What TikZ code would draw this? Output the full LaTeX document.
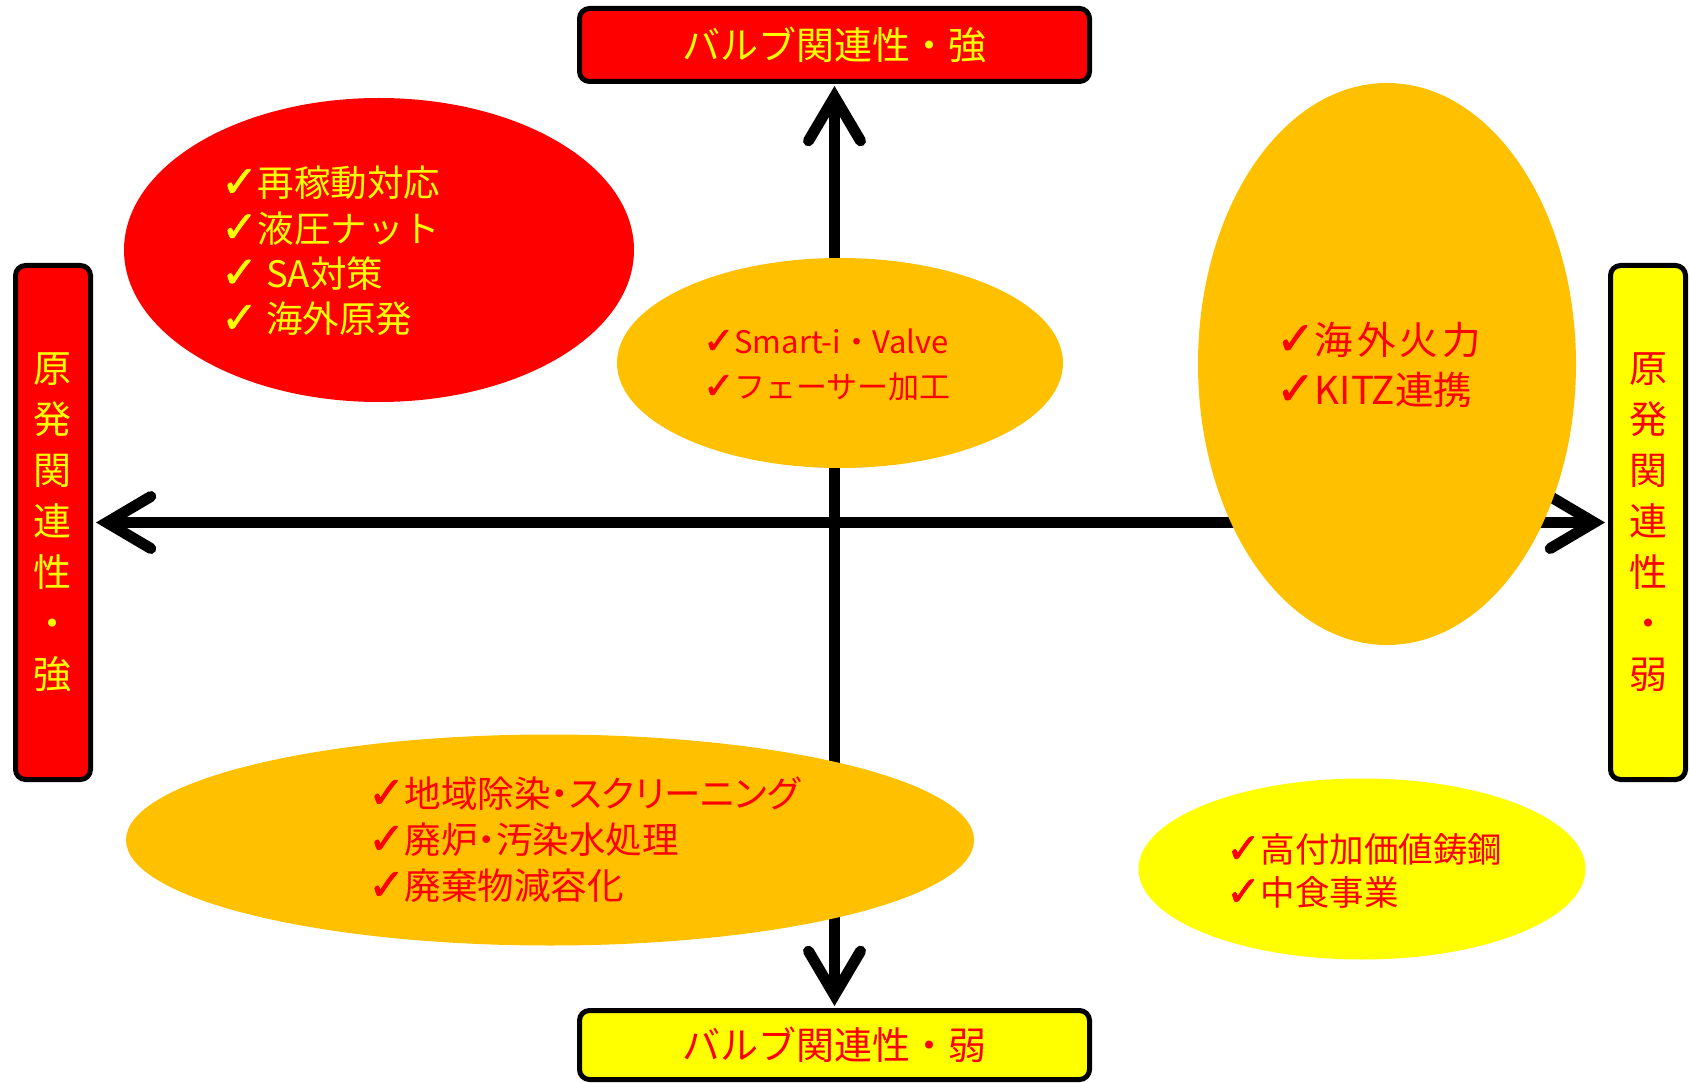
\documentclass[tikz,border=0pt]{standalone}
\usepackage{fontspec}
\usepackage{graphicx}
\newfontfamily\cjk{Noto Sans CJK JP}
\newfontfamily\symf[FakeBold=1.6]{DejaVu Sans}
\usetikzlibrary{shapes.geometric,arrows.meta}
\newcommand\mychk{{\symf\scalebox{1.2}{✓}}}
\definecolor{kred}{HTML}{FF0000}
\definecolor{kyel}{HTML}{FFFF00}
\definecolor{korg}{HTML}{FFC000}
\begin{document}
\begin{tikzpicture}[x=1pt,y=-1pt,
  box/.style={draw=black, line width=5pt, rounded corners=10pt, inner sep=0pt, align=center},
  blob/.style={ellipse, inner sep=0pt, draw=none},
  barb/.tip={Straight Barb[length=44pt,width=52pt,line cap=round,line join=miter]},
  axis/.style={line width=11pt, draw=black, barb-barb},
  lbl/.style={anchor=west, align=left, inner sep=0pt},
]
\useasboundingbox (0,0) rectangle (1690,1083);
% axis boxes
\node[box, fill=kred, text=kyel, minimum width=510pt, minimum height=73pt,
      font={\cjk\fontsize{38}{46}\selectfont}] (tbox) at (834.5,45) {バルブ関連性・強};
\node[box, fill=kyel, text=kred, minimum width=510pt, minimum height=69pt,
      font={\cjk\fontsize{38}{46}\selectfont}] (bbox) at (834.5,1045) {バルブ関連性・弱};
\node[box, fill=kred, text=kyel, minimum width=75pt, minimum height=514pt,
      font={\cjk\fontsize{38}{51}\selectfont}] (lbox) at (53,522.5) {原\\発\\関\\連\\性\\・\\強};
\node[box, fill=kyel, text=kred, minimum width=75pt, minimum height=514pt,
      font={\cjk\fontsize{38}{51}\selectfont}] (rbox) at (1648,522.5) {原\\発\\関\\連\\性\\・\\弱};
% axes
\draw[axis, shorten <=3pt, shorten >=3pt] (lbox.east) -- (rbox.west);
\draw[axis, shorten <=2pt, shorten >=2pt] (tbox.south) -- (bbox.north);
% ellipses
\node[blob, fill=kred, minimum width=510pt, minimum height=304pt] (e1) at (379,250) {};
\node[blob, fill=korg, minimum width=446pt, minimum height=210pt] (e2) at (840,363) {};
\node[blob, fill=korg, minimum width=378pt, minimum height=562pt] (e3) at (1387,364) {};
\node[blob, fill=korg, minimum width=848pt, minimum height=211pt] (e4) at (550,840) {};
\node[blob, fill=kyel, minimum width=447pt, minimum height=181pt] (e5) at (1362,869) {};
% texts
\node[lbl, text=kyel, font={\cjk\fontsize{36.5}{45.3}\selectfont}] (t1) at (221,251)
  {\mychk 再稼動対応\\\mychk 液圧ナット\\\mychk\ SA対策\\\mychk\ 海外原発};
\node[lbl, text=kred, font={\cjk\fontsize{31}{45}\selectfont}] (t2) at (703,365)
  {\mychk Smart-i・Valve\\\mychk フェーサー加工};
\node[lbl, text=kred, font={\cjk\fontsize{38.5}{50}\selectfont}] (t3) at (1276,365)
  {\mychk 海\kern4pt 外\kern4pt 火\kern4pt 力\\\mychk KITZ連携};
\node[lbl, text=kred, font={\cjk\fontsize{36.5}{46}\selectfont\addfontfeatures{RawFeature=+palt}}] (t4) at (368,840)
  {\mychk 地域除染・スクリーニング\\\mychk 廃炉・汚染水処理\\\mychk 廃棄物減容化};
\node[lbl, text=kred, font={\cjk\fontsize{34.5}{43}\selectfont}] (t5) at (1226,871)
  {\mychk 高付加価値鋳鋼\\\mychk 中食事業};
\end{tikzpicture}
\end{document}
